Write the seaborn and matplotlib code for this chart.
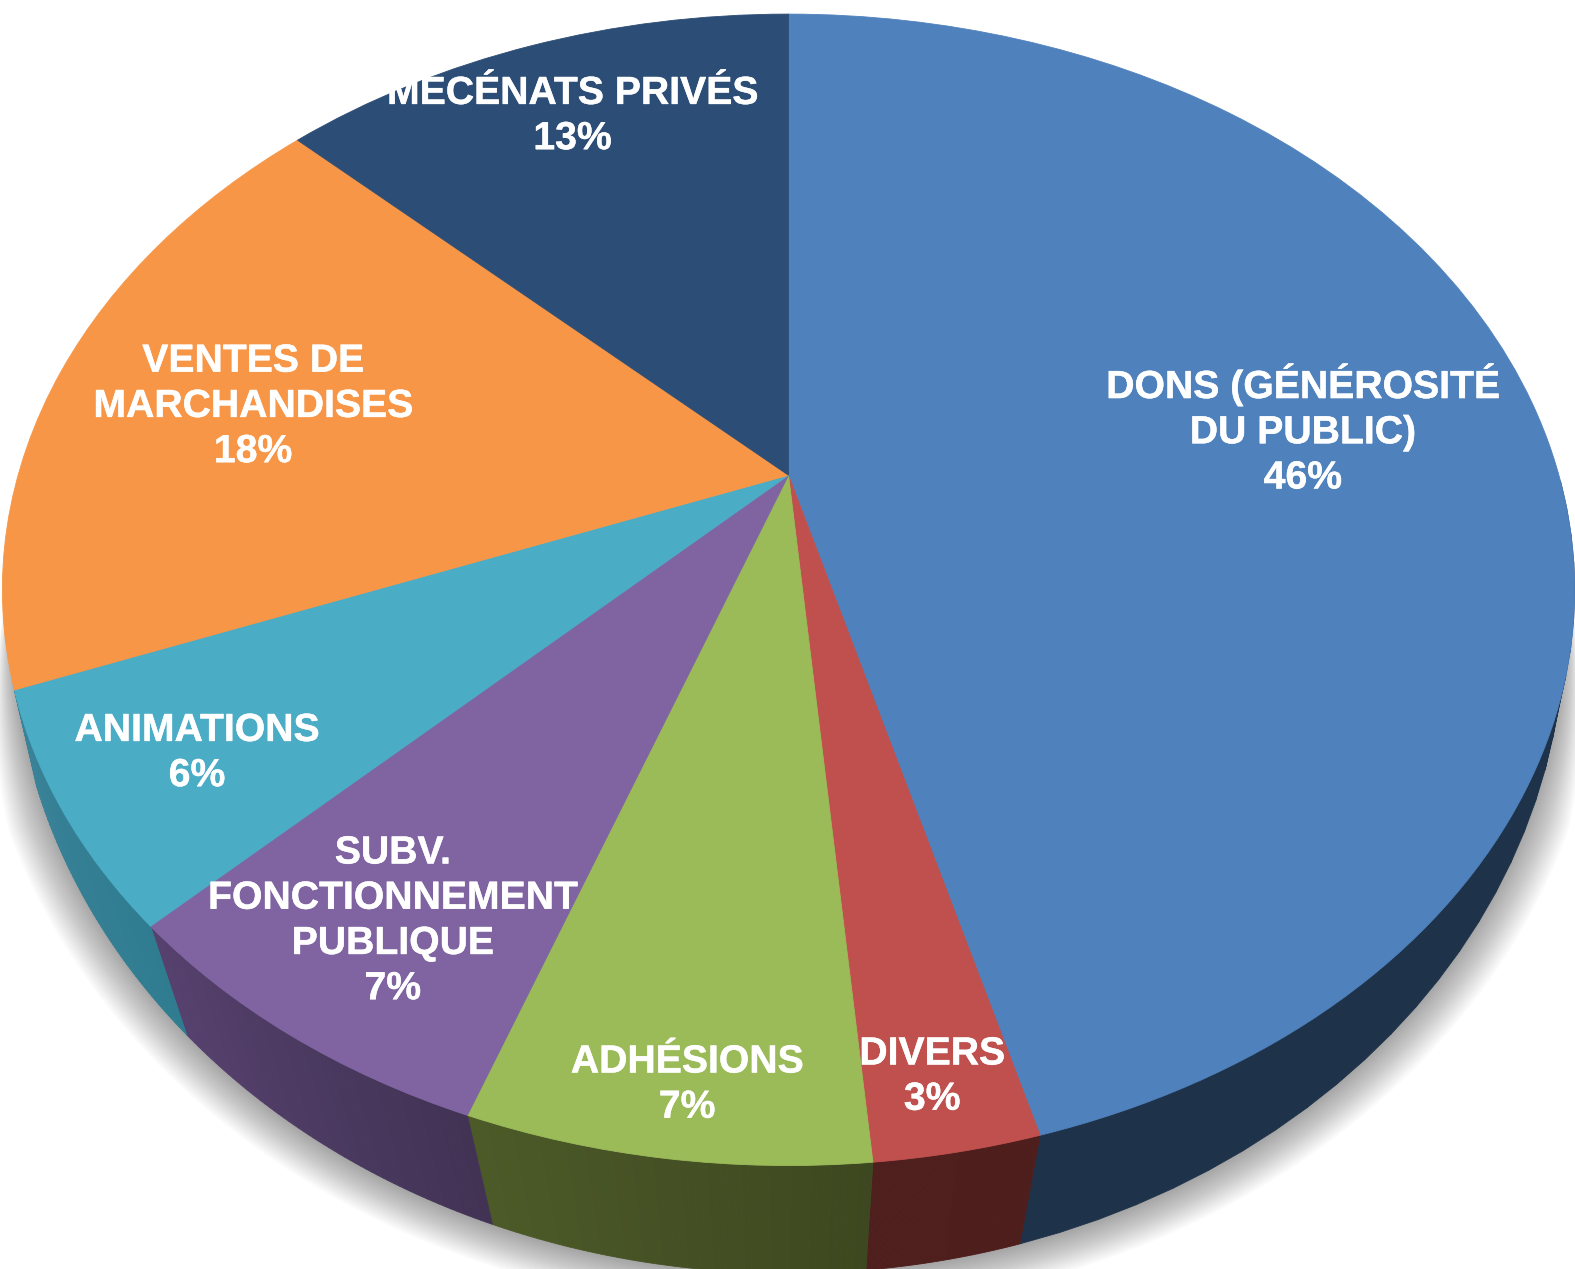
import numpy as np
import matplotlib
matplotlib.use('Agg')
import matplotlib.pyplot as plt
import matplotlib.patheffects as pe
from matplotlib.transforms import Transform
import seaborn as sns

# --- data, clockwise from the top of the pie ---
categories = ['DONS (GÉNÉROSITÉ\nDU PUBLIC)', 'DIVERS', 'ADHÉSIONS',
              'SUBV.\nFONCTIONNEMENT\nPUBLIQUE', 'ANIMATIONS',
              'VENTES DE\nMARCHANDISES', 'MÉCÉNATS PRIVÉS']
shares = [45.75, 2.85, 6.9, 7.12, 6.51, 17.97, 12.9]
pct_labels = ['46%', '3%', '7%', '7%', '6%', '18%', '13%']

top_colors = ['#4F81BD', '#C0504D', '#9BBB59', '#8064A2', '#4BACC6', '#F79646', '#2C4D75']
# only the first five slices show a side wall
wall_left = ['#1E3249', '#4E1F1D', '#4C5A28', '#56416E', '#3A8298']
wall_right = ['#1E3249', '#4E1E1C', '#3E4820', '#423355', '#2F7C90']

sns.set_theme(style='white')
plt.rcParams['font.family'] = ['Liberation Sans', 'DejaVu Sans']


class Tilted(Transform):
    """Perspective view of the unit pie, returns picture pixels."""
    input_dims = 2
    output_dims = 2
    has_inverse = False

    def __init__(self, kx, ky, w, y0):
        super().__init__()
        self.kx, self.ky, self.w, self.y0 = kx, ky, w, y0

    def transform_non_affine(self, xy):
        xy = np.asarray(xy, dtype=float)
        d = 1 + self.w * xy[:, 1]
        return np.column_stack([785 + self.kx * xy[:, 0] / d, self.y0 - self.ky * xy[:, 1] / d])


fig, ax = plt.subplots(figsize=(15.75, 12.69), dpi=100)
fig.subplots_adjust(0, 0, 1, 1)

top_face = Tilted(767, 550.3, 0.199, 473)
bottom_face = Tilted(766, 632.7, 0.127, 542.5)

# soft shadow under the lower rim only
t = np.radians(np.linspace(-5, -175, 300))
rim = np.column_stack([np.cos(t), np.sin(t)])
base = bottom_face.transform_non_affine(rim)
fade = np.clip(-rim[:, 1] * 2.5, 0, 1)[:, None]
for grow in np.linspace(-0.002, 0.05, 20):
    ring = np.array([785, 540.5]) + (base - np.array([785, 540.5])) * (1 + grow * fade)
    ax.fill(ring[:, 0], ring[:, 1] + 3, color='black', alpha=0.018, linewidth=0)

# side wall, one piece per slice, lower half of the rim
edges = 90 - np.cumsum([0] + shares) * 3.6
for i in range(len(wall_left)):
    t = np.radians(np.linspace(edges[i], edges[i + 1], 61))
    rim = np.column_stack([np.cos(t), np.sin(t)])
    upper = top_face.transform_non_affine(rim)
    lower = bottom_face.transform_non_affine(rim)
    strips = sns.blend_palette([wall_right[i], wall_left[i]], 60)
    for j in range(60):
        if rim[j, 1] > 0:
            continue
        quad = np.vstack([upper[j:j + 2], lower[j:j + 2][::-1]])
        ax.fill(quad[:, 0], quad[:, 1], color=strips[j], linewidth=0.6)

# top face
wedges, _ = ax.pie(shares, startangle=90, counterclock=False, colors=sns.color_palette(top_colors),
                   wedgeprops={'transform': top_face + ax.transData, 'linewidth': 0.6})
for w in wedges:
    w.set_edgecolor(w.get_facecolor())

# labels
label_xy = [(1297, 428), (928, 1072), (684, 1080), (391, 917), (196, 750), (252, 405), (570, 116)]
for name, pct, (x, y) in zip(categories, pct_labels, label_xy):
    ax.text(x, y, name + '\n' + pct, color='white', fontsize=28.2, fontweight='bold',
            ha='center', va='center', linespacing=1.33, zorder=10,
            path_effects=[pe.withStroke(linewidth=0.3, foreground='white')])

ax.set_aspect('auto')
ax.set_xlim(0, 1568)
ax.set_ylim(1263, 0)
ax.axis('off')

fig.savefig('out.png', dpi=100, facecolor='white')
